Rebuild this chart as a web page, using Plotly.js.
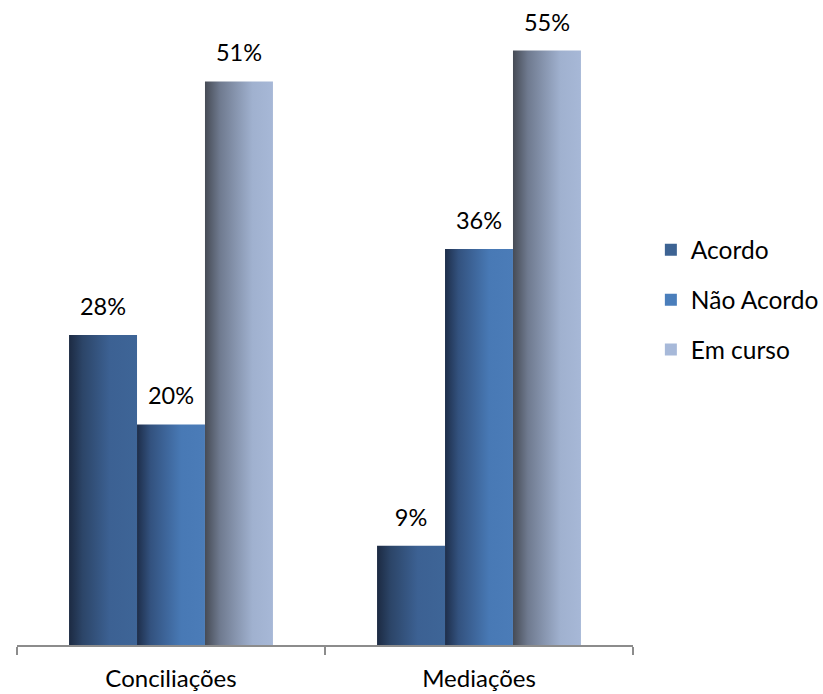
<!DOCTYPE html>
<html>
<head>
<meta charset="utf-8">
<script src="https://cdn.plot.ly/plotly-3.0.1.min.js"></script>
<style>
html,body{margin:0;padding:0;background:#fff;}
#chart{width:823px;height:694px;}
</style>
</head>
<body>
<div id="chart"></div>
<script>
const categories = ["Conciliações", "Mediações"];
const seriesNames = ["Acordo", "Não Acordo", "Em curso"];
const acordo = [28.1, 9.0];
const naoAcordo = [20.0, 35.9];
const emCurso = [51.1, 53.9];
const acordoLabels = ["28%", "9%"];
const naoAcordoLabels = ["20%", "36%"];
const emCursoLabels = ["51%", "55%"];

const legendColors = ["#3d6393", "#4a7ebb", "#a7b9d9"];
const gradients = [
  [["0%", "#1c2a42"], ["20%", "#2c4568"], ["60%", "#3c6193"], ["100%", "#3e6597"]],
  [["0%", "#1e2e4a"], ["20%", "#33527f"], ["65%", "#4879b5"], ["100%", "#4b7cb8"]],
  [["0%", "#464b55"], ["22%", "#6f7a8f"], ["70%", "#a0b1cf"], ["100%", "#a7b8d7"]]
];

const values = [acordo, naoAcordo, emCurso];
const labels = [acordoLabels, naoAcordoLabels, emCursoLabels];
const font = "Lato, 'Open Sans', sans-serif";

const traces = seriesNames.map((name, i) => ({
  type: "bar",
  name: name,
  x: categories,
  y: values[i],
  text: labels[i],
  textposition: "outside",
  cliponaxis: false,
  textfont: {family: font, size: 23.5, color: "#000"},
  marker: {color: legendColors[i], line: {width: 0}},
  legendgroup: "g" + i,
  hoverinfo: "skip"
}));

const layout = {
  width: 823,
  height: 694,
  margin: {l: 17, r: 190, t: 0, b: 49, autoexpand: false},
  paper_bgcolor: "#fff",
  plot_bgcolor: "#fff",
  barmode: "group",
  bargap: 0.338,
  bargroupgap: 0,
  showlegend: true,
  legend: {
    x: 1.029, xanchor: "left",
    y: 0.535, yanchor: "middle",
    font: {family: font, size: 24.5, color: "#000"},
    tracegroupgap: 15,
    traceorder: "grouped",
    bgcolor: "rgba(0,0,0,0)"
  },
  xaxis: {
    type: "category",
    showline: true, linecolor: "#8c8c8c", linewidth: 2,
    ticks: "outside", tickson: "boundaries", ticklen: 8, tickwidth: 2, tickcolor: "#8c8c8c",
    ticklabelstandoff: 11,
    tickfont: {family: font, size: 24, color: "#000"},
    showgrid: false, zeroline: false, fixedrange: true
  },
  yaxis: {
    visible: false,
    range: [0, 58.48],
    showgrid: false, zeroline: false, fixedrange: true
  }
};

Plotly.newPlot("chart", traces, layout, {displayModeBar: false, staticPlot: true}).then(gd => {
  const svg = gd.querySelector(".main-svg");
  const ns = "http://www.w3.org/2000/svg";
  let defs = svg.querySelector("defs");
  if (!defs) { defs = document.createElementNS(ns, "defs"); svg.insertBefore(defs, svg.firstChild); }
  gradients.forEach((stops, i) => {
    const lg = document.createElementNS(ns, "linearGradient");
    lg.setAttribute("id", "barGrad" + i);
    lg.setAttribute("x1", "0"); lg.setAttribute("y1", "0");
    lg.setAttribute("x2", "1"); lg.setAttribute("y2", "0");
    stops.forEach(s => {
      const st = document.createElementNS(ns, "stop");
      st.setAttribute("offset", s[0]);
      st.setAttribute("stop-color", s[1]);
      lg.appendChild(st);
    });
    defs.appendChild(lg);
  });
  const barTraces = gd.querySelectorAll(".barlayer .trace");
  barTraces.forEach((tr, i) => {
    tr.querySelectorAll(".point path").forEach(p => {
      p.style.fill = "url(#barGrad" + i + ")";
    });
    tr.querySelectorAll(".point text").forEach(t => {
      const tf = t.getAttribute("transform") || "";
      t.setAttribute("transform", tf + " translate(0,-12)");
    });
  });
});
</script>
</body>
</html>
